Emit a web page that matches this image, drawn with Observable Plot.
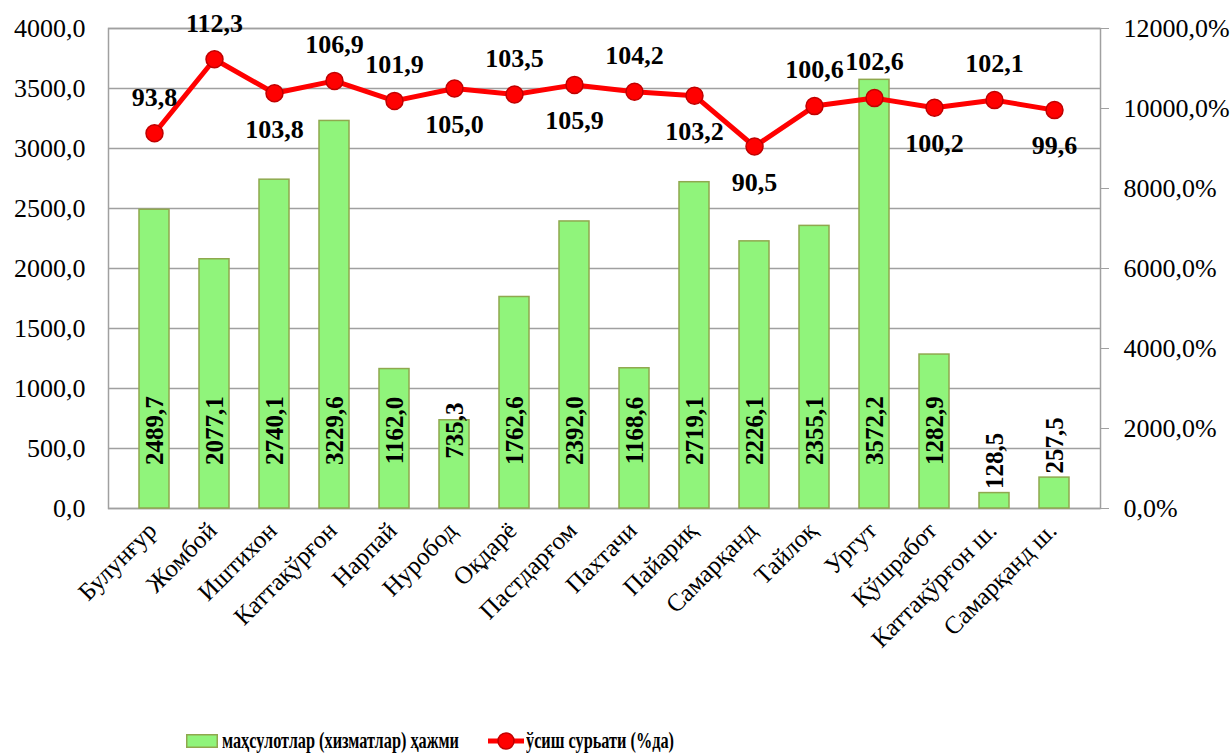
<!DOCTYPE html>
<html>
<head>
<meta charset="utf-8">
<script src="https://cdn.jsdelivr.net/npm/d3@7"></script>
<script src="https://cdn.jsdelivr.net/npm/@observablehq/plot@0.6"></script>
<style>
  html, body { margin: 0; padding: 0; background: #fff; }
  #wrap { width: 1231px; height: 753px; position: relative; font-family: "Times New Roman", Tinos, "Liberation Serif", "DejaVu Serif", "Noto Serif", serif; }
  #chart svg, #chart svg text { font-family: "Times New Roman", Tinos, "Liberation Serif", "DejaVu Serif", "Noto Serif", serif !important; }
  #legend { position: absolute; left: 0; top: 723px; width: 1231px; height: 36px; font-weight: bold; font-size: 23px; color: #000; }
  .item { display: flex; align-items: center; position: absolute; top: 0; height: 36px; white-space: nowrap; }
  .lt { display: inline-block; transform-origin: left center; }
</style>
</head>
<body>
<div id="wrap">
  <div id="chart"></div>
  <div id="legend"></div>
</div>
<script>
const categories = ["Булунғур", "Жомбой", "Иштихон", "Каттақўрғон", "Нарпай", "Нуробод", "Оқдарё", "Пастдарғом", "Пахтачи", "Пайариқ", "Самарқанд", "Тайлоқ", "Ургут", "Қўшработ", "Каттақўрғон ш.", "Самарқанд ш."];
const volume = [2489.7, 2077.1, 2740.1, 3229.6, 1162.0, 735.3, 1762.6, 2392.0, 1168.6, 2719.1, 2226.1, 2355.1, 3572.2, 1282.9, 128.5, 257.5];
const growth = [93.8, 112.3, 103.8, 106.9, 101.9, 105.0, 103.5, 105.9, 104.2, 103.2, 90.5, 100.6, 102.6, 100.2, 102.1, 99.6];
const growthLabelSide = ["above", "above", "below", "above", "above", "below", "above", "below", "above", "below", "below", "above", "above", "below", "above", "below"];
const leftTicks = [0, 500, 1000, 1500, 2000, 2500, 3000, 3500, 4000];
const rightTicks = [0, 2000, 4000, 6000, 8000, 10000, 12000];
const seriesNames = ["маҳсулотлар (хизматлар) ҳажми", "ўсиш сурьати (%да)"];

const leftMax = 4000, rightMax = 12000;
const ratio = leftMax / rightMax;
const fmt1 = v => v.toFixed(1).replace(".", ",");

const data = categories.map((c, i) => ({
  cat: c,
  vol: volume[i],
  g: growth[i],
  gy: growth[i] * 100 * ratio,
  side: growthLabelSide[i]
}));

const gridColor = "#a0a0a0";

const chart = Plot.plot({
  width: 1231,
  height: 716,
  marginTop: 28,
  marginBottom: 208,
  marginLeft: 108,
  marginRight: 131,
  style: { fontSize: "26px", color: "#000", background: "#fff" },
  x: { domain: categories, padding: 0.5 },
  y: { domain: [0, leftMax] },
  marks: [
    Plot.gridY({ ticks: leftTicks, stroke: gridColor, strokeOpacity: 1, strokeWidth: 1.5 }),
    Plot.frame({ stroke: gridColor, strokeWidth: 1.5 }),
    Plot.barY(data, { x: "cat", y: "vol", fill: "#90f47b", stroke: "#8fa84e", strokeWidth: 1.5 }),
    Plot.axisY({ ticks: leftTicks, tickSize: 0, tickPadding: 23, tickFormat: fmt1, fontSize: 26, fill: "#000", label: null }),
    Plot.axisY({ anchor: "right", ticks: rightTicks.map(t => t * ratio), tickSize: 8, stroke: gridColor, tickPadding: 15,
      tickFormat: d => fmt1(Math.round(d / ratio)) + "%", fontSize: 26, fill: "#000", label: null }),
    Plot.axisX({ tickSize: 0, tickRotate: -45, tickPadding: 18, fontSize: 25, fill: "#000", dx: -2, label: null }),
    Plot.text(data.filter(d => d.vol >= 500), { x: "cat", y: () => 0, text: d => fmt1(d.vol), rotate: -90,
      dy: -78, fontWeight: "bold", fontSize: 25, fill: "#000", textAnchor: "middle", lineAnchor: "middle" }),
    Plot.text(data.filter(d => d.vol < 500), { x: "cat", y: "vol", text: d => fmt1(d.vol), rotate: -90,
      dy: -4, fontWeight: "bold", fontSize: 25, fill: "#000", textAnchor: "start", lineAnchor: "middle" }),
    Plot.line(data, { x: "cat", y: "gy", stroke: "#ff0000", strokeWidth: 5 }),
    Plot.dot(data, { x: "cat", y: "gy", r: 8.5, fill: "#ff0000", stroke: "#c00000", strokeWidth: 1.5 }),
    Plot.text(data.filter(d => d.side === "above"), { x: "cat", y: "gy", text: d => fmt1(d.g), dy: -36,
      fontWeight: "bold", fontSize: 26, fill: "#000" }),
    Plot.text(data.filter(d => d.side === "below"), { x: "cat", y: "gy", text: d => fmt1(d.g), dy: 36,
      fontWeight: "bold", fontSize: 26, fill: "#000" })
  ]
});
document.getElementById("chart").appendChild(chart);

const legend = document.getElementById("legend");
legend.innerHTML = `
  <div class="item" style="left:186px">
    <svg width="32" height="14" style="margin-right:4px"><rect x="0.75" y="0.75" width="30.5" height="12.5" fill="#90f47b" stroke="#8fa84e" stroke-width="1.5"/></svg>
    <span class="lt" data-w="237">${seriesNames[0]}</span>
  </div>
  <div class="item" style="left:488px">
    <svg width="36" height="20" style="margin-right:2px"><line x1="0" y1="10" x2="36" y2="10" stroke="#ff0000" stroke-width="5"/><circle cx="18" cy="10" r="8" fill="#ff0000" stroke="#c00000" stroke-width="1.5"/></svg>
    <span class="lt" data-w="148">${seriesNames[1]}</span>
  </div>`;
legend.querySelectorAll(".lt").forEach(s => {
  const w = s.getBoundingClientRect().width;
  const target = +s.dataset.w;
  if (w > target) s.style.transform = `scaleX(${target / w})`;
});
</script>
</body>
</html>
